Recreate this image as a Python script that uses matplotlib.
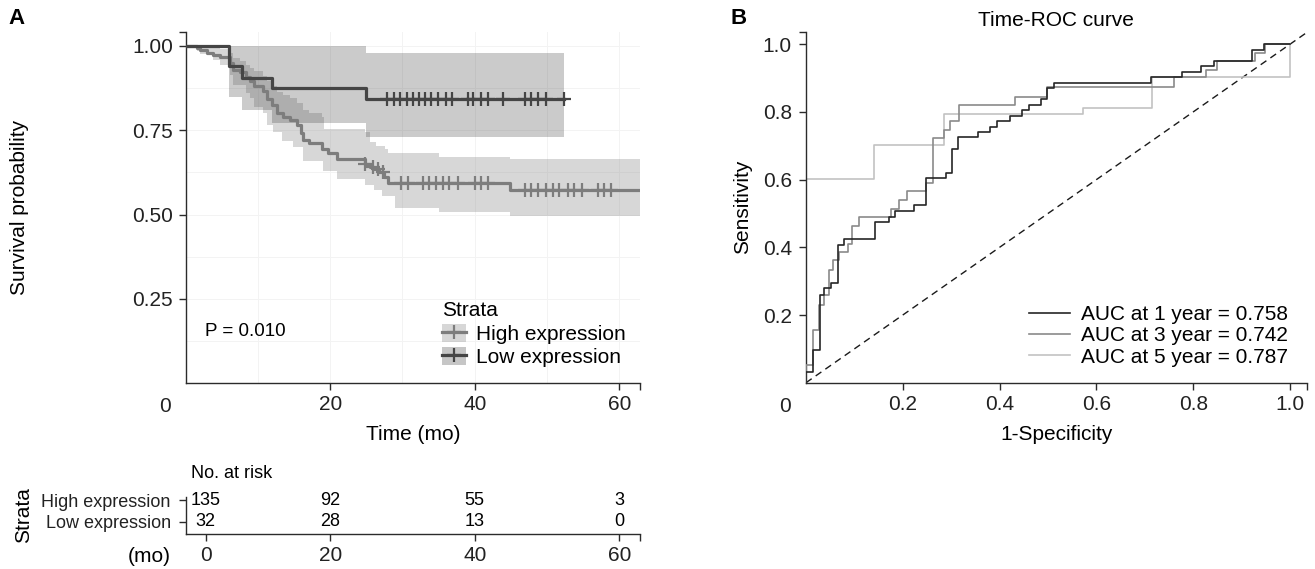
import numpy as np
import matplotlib
matplotlib.use('Agg')
import matplotlib.pyplot as plt
from matplotlib.lines import Line2D
from matplotlib.patches import Patch
from matplotlib.ticker import FixedLocator

plt.rcParams['font.family'] = ['Liberation Sans', 'DejaVu Sans']

# ---------------- panel A: Kaplan-Meier data ----------------
t_end_high = 62.87
t_end_low = 52.3

high_t = [0, 1.5, 2.0, 2.9, 3.8, 4.7, 6.1, 6.6, 7.5, 8.4, 8.9, 9.4, 10.7, 11.2, 11.9, 12.6,
          13.5, 14.4, 15.4, 15.9, 16.3, 17.0, 18.9, 19.7, 20.9, 24.8, 25.5, 26.0, 26.7, 27.4,
          28.0, 44.9]
high_s = [1.0, 0.993, 0.988, 0.980, 0.973, 0.966, 0.949, 0.929, 0.922, 0.907, 0.897, 0.880,
          0.866, 0.843, 0.826, 0.800, 0.790, 0.780, 0.766, 0.741, 0.721, 0.711, 0.695, 0.682,
          0.665, 0.650, 0.642, 0.635, 0.625, 0.612, 0.595, 0.573]
high_censor = [24.8, 25.9, 26.6, 27.3, 29.8, 30.7, 32.8, 33.7, 34.7, 35.6, 36.5, 37.7, 40.0,
               40.9, 41.8, 46.9, 47.8, 48.7, 49.9, 50.8, 51.7, 52.9, 53.8, 54.9, 57.0, 57.9, 58.9]

low_t = [0, 6.0, 7.75, 11.9, 24.95]
low_s = [1.0, 0.941, 0.906, 0.875, 0.844]
low_censor = [27.8, 28.8, 29.7, 30.6, 31.4, 32.3, 33.1, 34.0, 34.9, 36.0, 36.9, 39.0, 39.8,
              40.9, 41.9, 43.9, 46.9, 47.8, 48.7, 49.9, 52.3]

# confidence bands
hi_up_t = [0, 3.8, 4.7, 6.1, 6.6, 7.5, 8.4, 8.9, 9.4, 10.7, 11.2, 11.9, 12.6, 13.5, 14.4,
           15.4, 16.3, 17.0, 18.9, 19.1, 24.8, 25.5, 26.4, 27.6, 28.0, 35.0, 44.9]
hi_up = [1.0, 0.995, 0.99, 0.98, 0.965, 0.955, 0.945, 0.935, 0.925, 0.912, 0.895, 0.88, 0.865,
         0.855, 0.845, 0.83, 0.81, 0.80, 0.79, 0.755, 0.745, 0.715, 0.705, 0.695, 0.682,
         0.672, 0.664]
hi_lo_t = [0, 1.5, 2.0, 3.8, 4.7, 6.1, 6.6, 8.4, 8.9, 9.4, 10.7, 11.2, 12.1, 13.3, 14.9,
           16.3, 19.0, 20.9, 24.8, 26.0, 27.1, 29.0, 35.0, 44.9]
hi_lo = [1.0, 0.985, 0.975, 0.958, 0.945, 0.915, 0.885, 0.862, 0.845, 0.82, 0.80, 0.765,
         0.745, 0.718, 0.70, 0.66, 0.63, 0.605, 0.588, 0.573, 0.556, 0.519, 0.509, 0.497]
lo_up_t = [0, 24.95]
lo_up = [1.0, 0.978]
lo_lo_t = [0, 6.0, 7.75, 11.9, 24.95]
lo_lo = [1.0, 0.85, 0.81, 0.771, 0.731]

risk_times = [0, 20, 40, 60]
risk_high = [135, 92, 55, 3]
risk_low = [32, 28, 13, 0]

# ---------------- panel B: time-dependent ROC ----------------
roc1_fpr = [0, 0, 0.014, 0.028, 0.038, 0.052, 0.066, 0.078, 0.143, 0.171, 0.183, 0.224, 0.248,
            0.290, 0.301, 0.314, 0.355, 0.381, 0.394, 0.421, 0.447, 0.461, 0.486, 0.497, 0.512,
            0.712, 0.777, 0.817, 0.843, 0.922, 0.946, 1.0]
roc1_tpr = [0, 0.033, 0.097, 0.260, 0.280, 0.294, 0.408, 0.425, 0.475, 0.491, 0.506, 0.524,
            0.605, 0.621, 0.690, 0.725, 0.740, 0.755, 0.772, 0.789, 0.805, 0.821, 0.838, 0.872,
            0.886, 0.904, 0.919, 0.935, 0.950, 0.983, 1.0, 1.0]
roc3_fpr = [0, 0, 0.014, 0.026, 0.038, 0.047, 0.055, 0.068, 0.086, 0.095, 0.110, 0.176, 0.192,
            0.209, 0.248, 0.263, 0.286, 0.297, 0.317, 0.432, 0.498, 0.760, 0.826, 0.850, 0.927,
            0.948, 1.0]
roc3_tpr = [0, 0.053, 0.157, 0.230, 0.260, 0.334, 0.363, 0.385, 0.410, 0.462, 0.489, 0.513,
            0.541, 0.565, 0.590, 0.723, 0.747, 0.774, 0.820, 0.845, 0.873, 0.902, 0.924, 0.949,
            0.974, 1.0, 1.0]
roc5_fpr = [0, 0, 0.141, 0.285, 0.572, 0.715, 1.0]
roc5_tpr = [0, 0.602, 0.703, 0.795, 0.811, 0.904, 1.0]
auc_labels = ['AUC at 1 year = 0.758', 'AUC at 3 year = 0.742', 'AUC at 5 year = 0.787']

HIGH_C = '#7d7d7d'
LOW_C = '#454545'
AX_C = '#2b2b2b'


def step_at(tq, ts, vs):
    idx = np.searchsorted(ts, tq, side='right') - 1
    return np.asarray(vs)[idx]


def style_axes(ax):
    for s in ['top', 'right']:
        ax.spines[s].set_visible(False)
    for s in ['left', 'bottom']:
        ax.spines[s].set_color(AX_C)
        ax.spines[s].set_linewidth(1.0)
    ax.tick_params(which='both', direction='out', length=5.2, width=1.0, color=AX_C,
                   labelsize=15, labelcolor='#222222')


W, H = 1315, 569
fig = plt.figure(figsize=(W / 100, H / 100), dpi=100)

# ---------------- panel A ----------------
axA = fig.add_axes([185.7 / W, (H - 383.3) / H, (640 - 185.7) / W, (383.3 - 32) / H])
style_axes(axA)
axA.set_xlim(0, t_end_high)
axA.set_ylim(0, 1.0415)

for gx in range(10, 61, 10):
    axA.axvline(gx, color='#f3f3f3', lw=0.7, zorder=0)
for gy in np.arange(0.125, 1.01, 0.125):
    axA.axhline(gy, color='#f3f3f3', lw=0.7, zorder=0)

grid_hi = np.unique(np.concatenate([hi_up_t, hi_lo_t, [t_end_high]]))
axA.fill_between(grid_hi, step_at(grid_hi, hi_lo_t, hi_lo), step_at(grid_hi, hi_up_t, hi_up),
                 step='post', color=HIGH_C, alpha=0.3, lw=0, zorder=1)
grid_lo = np.unique(np.concatenate([lo_up_t, lo_lo_t, [t_end_low]]))
axA.fill_between(grid_lo, step_at(grid_lo, lo_lo_t, lo_lo), step_at(grid_lo, lo_up_t, lo_up),
                 step='post', color=LOW_C, alpha=0.28, lw=0, zorder=1)

axA.plot(high_t + [t_end_high], high_s + [high_s[-1]], drawstyle='steps-post',
         color=HIGH_C, lw=2.3, zorder=3)
axA.plot(low_t + [t_end_low], low_s + [low_s[-1]], drawstyle='steps-post',
         color=LOW_C, lw=2.3, zorder=4)
axA.plot(high_censor, step_at(high_censor, high_t, high_s), ls='none', marker='+',
         ms=10, mew=1.6, color=HIGH_C, zorder=3)
axA.plot(low_censor, step_at(low_censor, low_t, low_s), ls='none', marker='+',
         ms=10, mew=1.6, color=LOW_C, zorder=4)

axA.set_xticks([20, 40, 60])
axA.set_yticks([0.25, 0.5, 0.75, 1.0])
axA.set_yticklabels(['0.25', '0.50', '0.75', '1.00'])
axA.xaxis.set_minor_locator(FixedLocator([t_end_high]))
axA.yaxis.set_minor_locator(FixedLocator([1.0415]))
axA.tick_params(axis='x', pad=3.5)
axA.tick_params(axis='y', pad=4)
axA.annotate('0', xy=(0, 0), xycoords='axes fraction', xytext=(-20.7, -23.4),
             textcoords='offset pixels', ha='center', va='center', fontsize=15, color='#222222')
axA.set_xlabel('Time (mo)', fontsize=15)
axA.xaxis.set_label_coords(0.5, -0.12)
axA.set_ylabel('Survival probability', fontsize=15)
axA.yaxis.set_label_coords(-0.345, 0.5)
axA.text(2.7, 0.153, 'P = 0.010', fontsize=13.5, va='center', ha='left')

h_high = (Patch(facecolor=HIGH_C, alpha=0.3, lw=0),
          Line2D([], [], color=HIGH_C, lw=2.3, marker='+', ms=10, mew=1.6))
h_low = (Patch(facecolor=LOW_C, alpha=0.3, lw=0),
         Line2D([], [], color=LOW_C, lw=2.3, marker='+', ms=10, mew=1.6))
legA = axA.legend([h_high, h_low], ['High expression', 'Low expression'], title='Strata',
                  loc='upper left', bbox_to_anchor=(0.564, 0.233), frameon=False,
                  fontsize=15, title_fontsize=15, alignment='left', borderpad=0,
                  borderaxespad=0, handlelength=1.15, handleheight=0.95,
                  handletextpad=0.5, labelspacing=0.15)

# ---------------- risk table ----------------
def fwd(x):
    return np.interp(x, [-10, 0, 20, 100], [2.77 - 10 * 0.8615, 2.77, 20, 100])


def inv(u):
    return np.interp(u, [2.77 - 10 * 0.8615, 2.77, 20, 100], [-10, 0, 20, 100])


axT = fig.add_axes([185.7 / W, (H - 534) / H, (640 - 185.7) / W, (534 - 496.7) / H])
style_axes(axT)
axT.set_xscale('function', functions=(fwd, inv))
axT.set_xlim(-3.215, inv(t_end_high))
axT.set_ylim(-0.569, 1.155)
axT.set_xticks(risk_times)
axT.set_xticklabels([str(v) for v in risk_times])
axT.xaxis.set_minor_locator(FixedLocator([inv(t_end_high)]))
axT.set_yticks([1, 0])
axT.set_yticklabels(['High expression', 'Low expression'], fontsize=13)
axT.tick_params(axis='y', pad=5.5)
axT.tick_params(axis='x', pad=3.5)
for t, nh, nl in zip(risk_times, risk_high, risk_low):
    axT.text(t, 1, str(nh), ha='center', va='center', fontsize=13)
    axT.text(t, 0, str(nl), ha='center', va='center', fontsize=13)
axT.text(0.011, 1.61, 'No. at risk', transform=axT.transAxes, ha='left', va='center',
         fontsize=13)
axT.text(-0.033, -0.61, '(mo)', transform=axT.transAxes, ha='right', va='center',
         fontsize=15)
axT.set_ylabel('Strata', fontsize=15)
axT.yaxis.set_label_coords(-0.335, 0.5)

# ---------------- panel B ----------------
axB = fig.add_axes([806 / W, (H - 382.7) / H, 500.7 / W, 351 / H])
style_axes(axB)
axB.set_xlim(0, 1.0345)
axB.set_ylim(0, 1.037)
axB.axline((0, 0), slope=1, color='#1a1a1a', lw=1.0, ls=(0, (5, 3.5)), zorder=1)
axB.plot(roc1_fpr, roc1_tpr, drawstyle='steps-post', color='#262626', lw=1.2,
         label=auc_labels[0], zorder=4)
axB.plot(roc3_fpr, roc3_tpr, drawstyle='steps-post', color='#8a8a8a', lw=1.2,
         label=auc_labels[1], zorder=3)
axB.plot(roc5_fpr, roc5_tpr, drawstyle='steps-post', color='#c2c2c2', lw=1.2,
         label=auc_labels[2], zorder=2)
axB.set_xticks([0.2, 0.4, 0.6, 0.8, 1.0])
axB.set_xticklabels(['0.2', '0.4', '0.6', '0.8', '1.0'])
axB.set_yticks([0.2, 0.4, 0.6, 0.8, 1.0])
axB.set_yticklabels(['0.2', '0.4', '0.6', '0.8', '1.0'])
axB.xaxis.set_minor_locator(FixedLocator([1.0345]))
axB.yaxis.set_minor_locator(FixedLocator([1.037]))
axB.tick_params(axis='x', pad=3.5)
axB.tick_params(axis='y', pad=5)
axB.annotate('0', xy=(0, 0), xycoords='axes fraction', xytext=(-21, -24),
             textcoords='offset pixels', ha='center', va='center', fontsize=15, color='#222222')
axB.set_xlabel('1-Specificity', fontsize=15)
axB.xaxis.set_label_coords(0.5, -0.12)
axB.set_ylabel('Sensitivity', fontsize=15)
axB.yaxis.set_label_coords(-0.108, 0.5)
axB.set_title('Time-ROC curve', fontsize=15, pad=4)
axB.legend(loc='lower right', bbox_to_anchor=(0.9627, 0.046), frameon=False, fontsize=15,
           borderpad=0, borderaxespad=0, handlelength=1.95, handletextpad=0.55,
           labelspacing=0.1)

fig.text(8 / W, 1 - 19 / H, 'A', fontsize=16, fontweight='bold', va='center', ha='left')
fig.text(731 / W, 1 - 19 / H, 'B', fontsize=16, fontweight='bold', va='center', ha='left')

fig.savefig('out.png', dpi=100)
